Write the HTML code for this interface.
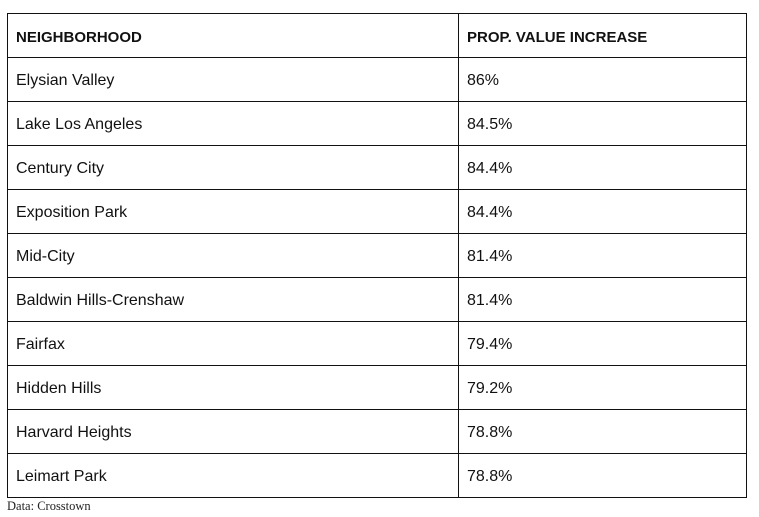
<!DOCTYPE html>
<html><head><meta charset="utf-8"><style>
body{margin:0;width:759px;height:517px;background:#fff;position:relative;font-family:"Liberation Sans",sans-serif;color:#111;overflow:hidden}
table{position:absolute;left:7px;top:13px;width:739px;border-collapse:collapse;table-layout:fixed}
td,th{border:1px solid #111;height:43px;padding:3px 0 0 8px;box-sizing:border-box;text-align:left;font-size:16px;vertical-align:middle}
th{font-weight:bold;font-size:15px}
.src{position:absolute;left:7px;top:499px;font-family:"Liberation Serif",serif;font-size:12.5px;color:#222}
</style></head><body>
<table>
<colgroup><col style="width:451px"><col style="width:288px"></colgroup>
<tr style="height:44px"><th>NEIGHBORHOOD</th><th>PROP. VALUE INCREASE</th></tr>
<tr style="height:44px"><td>Elysian Valley</td><td>86%</td></tr>
<tr style="height:44px"><td>Lake Los Angeles</td><td>84.5%</td></tr>
<tr style="height:44px"><td>Century City</td><td>84.4%</td></tr>
<tr style="height:44px"><td>Exposition Park</td><td>84.4%</td></tr>
<tr style="height:44px"><td>Mid-City</td><td>81.4%</td></tr>
<tr style="height:44px"><td>Baldwin Hills-Crenshaw</td><td>81.4%</td></tr>
<tr style="height:44px"><td>Fairfax</td><td>79.4%</td></tr>
<tr style="height:44px"><td>Hidden Hills</td><td>79.2%</td></tr>
<tr style="height:44px"><td>Harvard Heights</td><td>78.8%</td></tr>
<tr style="height:44px"><td>Leimart Park</td><td>78.8%</td></tr>
</table>
<div class="src">Data: Crosstown</div>
</body></html>
